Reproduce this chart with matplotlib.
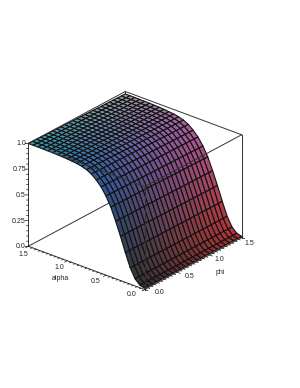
# -*- coding: utf-8 -*-
import numpy as np
import matplotlib
matplotlib.use('Agg')
import matplotlib.pyplot as plt
from mpl_toolkits.mplot3d import proj3d

plt.rcParams['font.family'] = ['Liberation Sans', 'DejaVu Sans']

# surface height, one value per alpha grid line,
# plus the slight sag of the plateau towards phi = 1.5
alpha_grid = [i * 0.0625 for i in range(25)]
phi_grid = [i * 0.0625 for i in range(25)]
z_by_alpha = [0.012, 0.025, 0.07, 0.16, 0.29, 0.43, 0.56, 0.68, 0.77, 0.84, 0.89, 0.93, 0.955,
              0.97, 0.98, 0.985, 0.99, 0.993, 0.995, 0.997, 0.998, 0.999, 1.0, 1.0, 1.0]
sag_by_phi = [1.0, 0.999, 0.998, 0.997, 0.996, 0.995, 0.994, 0.993, 0.992, 0.991, 0.99, 0.989, 0.988,
              0.987, 0.986, 0.985, 0.984, 0.983, 0.982, 0.981, 0.98, 0.979, 0.978, 0.977, 0.976]

alpha_ticks = [0.0, 0.5, 1.0, 1.5]
phi_ticks = [0.0, 0.5, 1.0, 1.5]
z_ticks = [0.0, 0.25, 0.5, 0.75, 1.0]
z_tick_labels = ['0.0', '0.25', '0.5', '0.75', '1.0']

fig = plt.figure(figsize=(3.0, 3.88), dpi=100)
ax = fig.add_axes([0.046, 76.3 / 388, 236 / 300, 236 / 388], projection='3d', computed_zorder=False)
ax.set_proj_type('ortho')
ax.view_init(elev=26.5, azim=-140.2)
ax.set_box_aspect((1, 1, 0.7586))
ax.set_xlim(0, 1.5, view_margin=0)
ax.set_ylim(0, 1.5, view_margin=0)
ax.set_zlim(0, 1, view_margin=0)
ax.set_xticks([])
ax.set_yticks([])
ax.set_zticks([])
ax.set_axis_off()

X, Y = np.meshgrid(phi_grid, alpha_grid)
Z = np.outer(z_by_alpha, sag_by_phi)

# colour by position: r = phi, g = alpha, b = height
red = 0.2 + 0.52 * X / 1.5 * (1 - 0.2 * Y / 1.5)
colors = np.dstack([red, 0.18 + 0.44 * Y / 1.5, 0.2 + 0.46 * Z])

ax.plot_surface(X, Y, Z, facecolors=colors, shade=False, rstride=1, cstride=1,
                edgecolor='#111111', linewidth=0.8, antialiased=True, zorder=2)

box_color = '#333333'


def edge(p, q, z):
    ax.plot([p[0], q[0]], [p[1], q[1]], [p[2], q[2]], color=box_color, lw=0.7, zorder=z)


def label(x, y, z, s, ha='center'):
    # project by hand so the text stays an ordinary 2D text
    px, py, _ = proj3d.proj_transform(x, y, z, ax.get_proj())
    ax.text2D(px, py, s, transform=ax.transData, fontsize=5, ha=ha, va='center',
              color='#222222', zorder=4)


# hidden behind the surface
edge((0, 1.5, 0), (1.5, 1.5, 0), 1)
edge((1.5, 0, 0), (1.5, 1.5, 0), 1)
edge((1.5, 1.5, 0), (1.5, 1.5, 1), 1)
# in front
edge((0, 1.5, 1), (1.5, 1.5, 1), 3)
edge((1.5, 1.5, 1), (1.5, 0, 1), 3)
edge((1.5, 0, 1), (0, 0, 1), 3)
edge((0, 0, 1), (0, 1.5, 1), 3)
edge((0, 1.5, 0), (0, 1.5, 1), 3)
edge((1.5, 0, 0), (1.5, 0, 1), 3)
edge((0, 0, 0), (0, 0, 1), 3)
edge((0, 0, 0), (0, 1.5, 0), 3)
edge((0, 0, 0), (1.5, 0, 0), 3)

# minor and major ticks on the three axes
for v in np.arange(0, 1.5001, 0.05):
    major = abs(v / 0.5 - round(v / 0.5)) < 1e-6
    n = 0.04 if major else 0.022
    ax.plot([0, -n], [v, v], [0, 0], color='#111111', lw=0.5, zorder=3)
    ax.plot([v, v], [0, -n], [0, 0], color='#111111', lw=0.5, zorder=3)
for v in np.arange(0, 1.0001, 0.05):
    major = abs(v / 0.25 - round(v / 0.25)) < 1e-6
    n = 0.022 if major else 0.012
    ax.plot([0, -n], [1.5, 1.5 + n], [v, v], color='#111111', lw=0.5, zorder=3)

for v in alpha_ticks:
    label(-0.17, 0.03 + 0.93 * v, 0, '%.1f' % v)
for v in phi_ticks:
    label(0.05 + 0.93 * v, -0.15, 0, '%.1f' % v)
for v, s in zip(z_ticks, z_tick_labels):
    label(-0.025, 1.51, v, s, ha='right')

label(-0.1, 1.0, -0.14, 'alpha')
label(1.0, -0.14, -0.136, 'phi')

fig.savefig('out.png', dpi=100)
